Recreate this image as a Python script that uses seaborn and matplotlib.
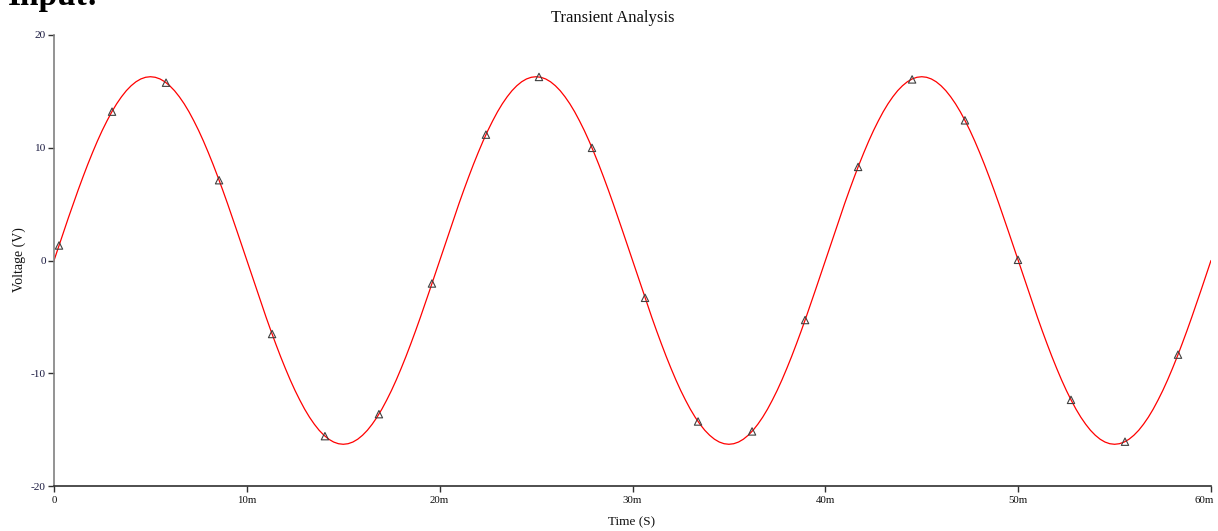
import numpy as np
import pandas as pd
import matplotlib
matplotlib.use("Agg")
import matplotlib.pyplot as plt
import matplotlib.transforms as mtransforms
import seaborn as sns

# ---- data ----
# curve sampled every 0.25 ms from 0 to 60 ms (volts)
voltage = [
    # 0 - 20 ms
    0.00, 1.28, 2.55, 3.81, 5.04, 6.24, 7.40, 8.52, 9.58, 10.59, 11.53,
    12.39, 13.19, 13.90, 14.52, 15.06, 15.50, 15.85, 16.10, 16.25, 16.30,
    16.25, 16.10, 15.85, 15.50, 15.06, 14.52, 13.90, 13.19, 12.39, 11.53,
    10.59, 9.58, 8.52, 7.40, 6.24, 5.04, 3.81, 2.55, 1.28, 0.00,
    -1.28, -2.55, -3.81, -5.04, -6.24, -7.40, -8.52, -9.58, -10.59, -11.53,
    -12.39, -13.19, -13.90, -14.52, -15.06, -15.50, -15.85, -16.10, -16.25, -16.30,
    -16.25, -16.10, -15.85, -15.50, -15.06, -14.52, -13.90, -13.19, -12.39, -11.53,
    -10.59, -9.58, -8.52, -7.40, -6.24, -5.04, -3.81, -2.55, -1.28,
    # 20 - 40 ms
    0.00, 1.28, 2.55, 3.81, 5.04, 6.24, 7.40, 8.52, 9.58, 10.59, 11.53,
    12.39, 13.19, 13.90, 14.52, 15.06, 15.50, 15.85, 16.10, 16.25, 16.30,
    16.25, 16.10, 15.85, 15.50, 15.06, 14.52, 13.90, 13.19, 12.39, 11.53,
    10.59, 9.58, 8.52, 7.40, 6.24, 5.04, 3.81, 2.55, 1.28, 0.00,
    -1.28, -2.55, -3.81, -5.04, -6.24, -7.40, -8.52, -9.58, -10.59, -11.53,
    -12.39, -13.19, -13.90, -14.52, -15.06, -15.50, -15.85, -16.10, -16.25, -16.30,
    -16.25, -16.10, -15.85, -15.50, -15.06, -14.52, -13.90, -13.19, -12.39, -11.53,
    -10.59, -9.58, -8.52, -7.40, -6.24, -5.04, -3.81, -2.55, -1.28,
    # 40 - 60 ms
    0.00, 1.28, 2.55, 3.81, 5.04, 6.24, 7.40, 8.52, 9.58, 10.59, 11.53,
    12.39, 13.19, 13.90, 14.52, 15.06, 15.50, 15.85, 16.10, 16.25, 16.30,
    16.25, 16.10, 15.85, 15.50, 15.06, 14.52, 13.90, 13.19, 12.39, 11.53,
    10.59, 9.58, 8.52, 7.40, 6.24, 5.04, 3.81, 2.55, 1.28, 0.00,
    -1.28, -2.55, -3.81, -5.04, -6.24, -7.40, -8.52, -9.58, -10.59, -11.53,
    -12.39, -13.19, -13.90, -14.52, -15.06, -15.50, -15.85, -16.10, -16.25, -16.30,
    -16.25, -16.10, -15.85, -15.50, -15.06, -14.52, -13.90, -13.19, -12.39, -11.53,
    -10.59, -9.58, -8.52, -7.40, -6.24, -5.04, -3.81, -2.55, -1.28, 0.00,
]
time_ms = np.linspace(0, 60, len(voltage))

# triangle markers (ms, V)
marker_t = [0.26, 3.01, 5.81, 8.56, 11.31, 14.05, 16.85, 19.60, 22.40, 25.15, 27.90,
            30.65, 33.40, 36.20, 38.95, 41.70, 44.50, 47.24, 49.99, 52.74, 55.54, 58.29]
marker_v = [1.33, 13.2, 15.77, 7.12, -6.52, -15.58, -13.63, -2.04, 11.16, 16.28, 9.99,
            -3.31, -14.28, -15.16, -5.28, 8.30, 16.06, 12.43, 0.06, -12.36, -16.07, -8.35]

x_ticks = [0, 10, 20, 30, 40, 50, 60]
x_ticklabels = ["0", "10m", "20m", "30m", "40m", "50m", "60m"]
y_ticks = [-20, -10, 0, 10, 20]
y_ticklabels = ["-20", "-10", "0", "10", "20"]

title = "Transient Analysis"
xlabel = "Time (S)"
ylabel = "Voltage (V)"
heading = "Input:"

# ---- plot ----
sns.set_style("white")
plt.rcParams["font.family"] = ["Liberation Serif", "DejaVu Serif"]

fig = plt.figure(figsize=(12.18, 5.31), dpi=100)
ax = fig.add_axes([54 / 1218, 1 - 486 / 531, (1211 - 54) / 1218, (486 - 35) / 531])

curve = pd.DataFrame({"t": time_ms, "v": voltage})
marks = pd.DataFrame({"t": marker_t, "v": marker_v})

sns.lineplot(data=curve, x="t", y="v", ax=ax, color="#ff0000", linewidth=0.9)
sns.scatterplot(data=marks, x="t", y="v", ax=ax, marker="^", s=28,
                facecolor="none", edgecolor="#404040", linewidth=0.8, zorder=3)

ax.set_xlim(0, 60)
ax.set_ylim(-20, 20)
ax.set_xticks(x_ticks)
ax.set_xticklabels(x_ticklabels)
ax.set_yticks(y_ticks)
ax.set_yticklabels(y_ticklabels)
ax.set_xlabel("")
ax.set_ylabel("")

for s in ("top", "right"):
    ax.spines[s].set_visible(False)
ax.spines["left"].set_color("#808080")
ax.spines["left"].set_linewidth(1.2)
ax.spines["bottom"].set_color("#303030")
ax.spines["bottom"].set_linewidth(1.2)

ax.tick_params(axis="x", direction="out", length=4, width=1, colors="#303030",
               labelcolor="#101010", labelsize=7.8, pad=3, bottom=True)
ax.tick_params(axis="y", direction="out", length=4, width=1, colors="#303030",
               labelcolor="#1a1a40", labelsize=8.2, pad=2, left=True)

# nudge the last x tick label inward so it fits, as in the reference
last = ax.get_xticklabels()[-1]
last.set_transform(last.get_transform() +
                   mtransforms.ScaledTranslation(-7 / 100, 0, fig.dpi_scale_trans))

fig.text(613 / 1218, 1 - 18 / 531, title, ha="center", va="center", fontsize=12, color="#111111")
fig.text(632 / 1218, 1 - 522 / 531, xlabel, ha="center", va="center", fontsize=9.5, color="#111111")
fig.text(19 / 1218, 1 - 260 / 531, ylabel, ha="center", va="center", rotation=90,
         fontsize=10, color="#111111")
fig.text(8 / 1218, 1 - 5 / 531, heading, ha="left", va="baseline", fontsize=24,
         fontweight="bold", color="#000000")

fig.savefig("out.png", dpi=100)
